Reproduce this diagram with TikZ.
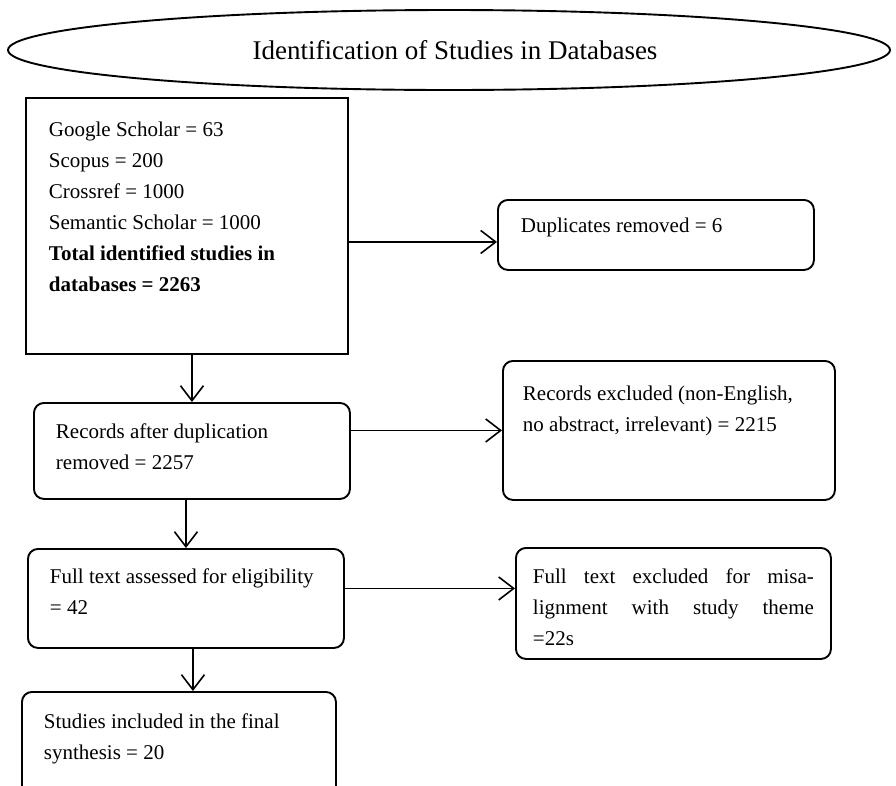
\documentclass[tikz,border=0pt]{standalone}
\usepackage{fontspec}
\setmainfont{Liberation Serif}
\usetikzlibrary{positioning,arrows.meta,calc,shapes.geometric}
\newcommand{\boxtext}[4]{\parbox[t][#2][t]{#1}{\rule{0pt}{#3}#4}}

\begin{document}
\begin{tikzpicture}[>={Straight Barb[length=15pt,width=23pt]}, x=1pt, y=-1pt,
  box/.style={draw, line width=1.9pt, rounded corners=10pt, anchor=north west, inner xsep=22pt, inner ysep=0pt, font=\fontsize{21}{31}\selectfont},
  flow/.style={->, line width=1.6pt}]
  \useasboundingbox (0,0) rectangle (896,785); \clip (0,0) rectangle (896,785);
  \node[ellipse, draw, line width=1.9pt, minimum width=882pt, minimum height=80pt, inner sep=0pt, font=\fontsize{27}{32}\selectfont] (title) at (449,50) {\hspace*{12pt}Identification of Studies in Databases};
  \node[box, rounded corners=0pt, inner xsep=23pt] (src) at (25,97) {\boxtext{276pt}{256pt}{39pt}{Google Scholar = 63\\ Scopus = 200\\ Crossref = 1000\\ Semantic Scholar = 1000\\ \textbf{Total identified studies in}\\ \textbf{databases = 2263}}};
  \node[box, inner xsep=23pt] (dup) at (497,199) {\boxtext{270pt}{70pt}{33pt}{Duplicates removed = 6}};
  \node[box] (rec) at (33,402) {\boxtext{272pt}{96pt}{36pt}{Records after duplication\\ removed = 2257}};
  \node[box, inner xsep=20pt] (exc1) at (502,360) {\boxtext{292pt}{139pt}{40pt}{Records excluded (non-English,\\ no abstract, irrelevant) = 2215}};
  \node[box] (full) at (27,548) {\boxtext{272pt}{99pt}{35pt}{Full text assessed for eligibility\\ = 42}};
  \node[box, inner xsep=17pt] (exc2) at (515,547) {\boxtext{281pt}{111pt}{36pt}{\makebox[\linewidth][s]{Full text excluded for misa-}\\ \makebox[\linewidth][s]{lignment with study theme}\\ =22s}};
  \node[box] (final) at (21,691) {\boxtext{270pt}{120pt}{37pt}{Studies included in the final\\ synthesis = 20}};
  \draw[flow] ($(src.east |- dup.west)+(0,7)$) -- ($(dup.west)+(0,7)$);
  \draw[flow] (src.south -| rec.north) -- (rec.north);
  \draw[flow] (rec.east |- exc1.west) -- (exc1.west);
  \draw[flow] (rec.south -| full.north) -- (full.north);
  \draw[flow] ($(full.east)+(0,-10)$) -- ($(full.east -| exc2.west)+(0,-10)$);
  \draw[flow] ($(full.south)+(7,0)$) -- ($(full.south |- final.north)+(7,0)$);
\end{tikzpicture}
\end{document}
